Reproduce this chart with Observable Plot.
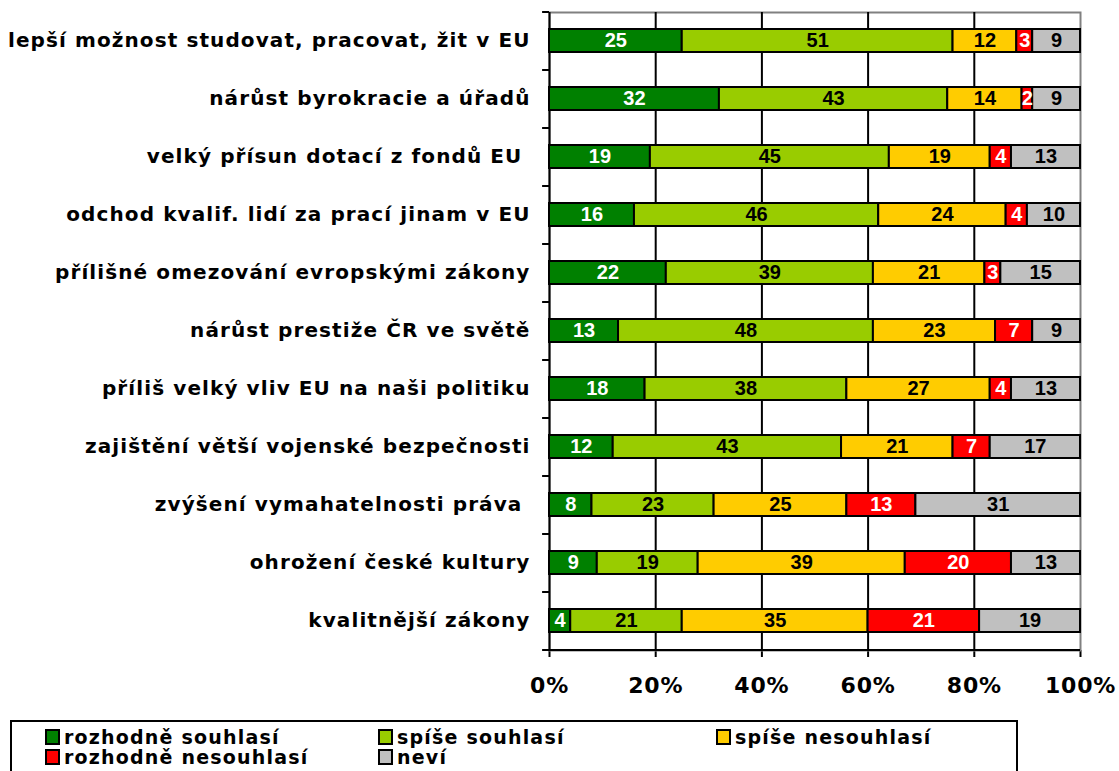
<!DOCTYPE html>
<html>
<head>
<meta charset="utf-8">
<script src="https://cdn.jsdelivr.net/npm/d3@7"></script>
<script src="https://cdn.jsdelivr.net/npm/@observablehq/plot@0.6"></script>
<style>
  html, body { margin: 0; padding: 0; background: #fff; }
  #chart svg { display: block; }
  #chart [aria-label^="y-axis"] text { font-family: "DejaVu Sans", Verdana, sans-serif; font-size: 20px; font-weight: bold; letter-spacing: 1.1px; fill: #000; }
  #chart [aria-label^="x-axis"] text { font-family: "DejaVu Sans", Verdana, sans-serif; font-size: 22px; font-weight: bold; letter-spacing: 0.8px; fill: #000; }
  #chart [aria-label^="x-axis"] line, #chart [aria-label^="x-axis"] path { stroke: #000; stroke-width: 2px; }
  #legend { position: relative; width: 1119px; height: 59px; }
  #legend .box { position: absolute; left: 10px; top: 8px; width: 1004px; height: 60px; border: 2px solid #000; }
  #legend .item { position: absolute; font-family: "DejaVu Sans", Verdana, sans-serif; font-weight: bold; font-size: 19px; letter-spacing: 1.2px; line-height: 20px; white-space: nowrap; color: #000; }
  #legend .sw { display: inline-block; width: 11px; height: 12px; border: 2px solid #000; vertical-align: -1px; margin-right: 4px; }
</style>
</head>
<body>
<div id="chart"></div>
<div id="legend"><div class="box"></div></div>
<script>
const categories = [
  "lepší možnost studovat, pracovat, žit v EU",
  "nárůst byrokracie a úřadů",
  "velký přísun dotací z fondů EU ",
  "odchod kvalif. lidí za prací jinam v EU",
  "přílišné omezování evropskými zákony",
  "nárůst prestiže ČR ve světě",
  "příliš velký vliv EU na naši politiku",
  "zajištění větší vojenské bezpečnosti",
  "zvýšení vymahatelnosti práva ",
  "ohrožení české kultury",
  "kvalitnější zákony"
];
const seriesNames = ["rozhodně souhlasí", "spíše souhlasí", "spíše nesouhlasí", "rozhodně nesouhlasí", "neví"];
const seriesColors = ["#008000", "#99CC00", "#FFCC00", "#FF0000", "#C0C0C0"];
const labelColors = ["#fff", "#000", "#000", "#fff", "#000"];

const rozhodneSouhlasi   = [25, 32, 19, 16, 22, 13, 18, 12,  8,  9,  4];
const spiseSouhlasi      = [51, 43, 45, 46, 39, 48, 38, 43, 23, 19, 21];
const spiseNesouhlasi    = [12, 14, 19, 24, 21, 23, 27, 21, 25, 39, 35];
const rozhodneNesouhlasi = [ 3,  2,  4,  4,  3,  7,  4,  7, 13, 20, 21];
const nevi               = [ 9,  9, 13, 10, 15,  9, 13, 17, 31, 13, 19];

const xTicks = [0, 20, 40, 60, 80, 100];

const seriesValues = [rozhodneSouhlasi, spiseSouhlasi, spiseNesouhlasi, rozhodneNesouhlasi, nevi];
const data = [];
categories.forEach((c, i) => {
  seriesNames.forEach((s, j) => {
    data.push({cat: c, series: s, value: seriesValues[j][i], si: j});
  });
});

const stackOpts = (extra) => Plot.stackX({x: "value", y: "cat", z: "series", order: seriesNames, ...extra});
const lastCat = categories[categories.length - 1];

const chart = Plot.plot({
  width: 1119,
  height: 712,
  marginLeft: 549,
  marginRight: 39,
  marginTop: 12,
  marginBottom: 62,
  style: {fontFamily: "'Liberation Sans', Arial, sans-serif", background: "#fff", overflow: "visible"},
  x: {domain: [0, 100], ticks: xTicks, tickFormat: d => d + "%", tickSize: 7, tickPadding: 20, label: null},
  y: {domain: categories, paddingInner: 0.6, paddingOuter: 0.3, tickSize: 0, tickPadding: 19, label: null},
  color: {domain: seriesNames, range: seriesColors},
  marks: [
    Plot.frame({stroke: "#808080", strokeWidth: 2}),
    Plot.ruleX(xTicks.slice(1, -1), {stroke: "#000", strokeWidth: 2}),
    Plot.ruleX([0], {stroke: "#000", strokeWidth: 2}),
    Plot.ruleY([lastCat], {x1: 0, x2: 100, dy: 29, stroke: "#000", strokeWidth: 2}),
    Plot.ruleY(categories, {x1: -1.3, x2: 0, dy: -29, stroke: "#000", strokeWidth: 2}),
    Plot.ruleY([lastCat], {x1: -1.3, x2: 0, dy: 29, stroke: "#000", strokeWidth: 2}),
    Plot.barX(data, stackOpts({fill: "series", stroke: "#000", strokeWidth: 2})),
    Plot.text(data, stackOpts({text: d => labelColors[d.si] === "#fff" ? d.value : null, fill: "#fff", fontSize: 20, fontWeight: "bold"})),
    Plot.text(data, stackOpts({text: d => labelColors[d.si] === "#000" ? d.value : null, fill: "#000", fontSize: 20, fontWeight: "bold"}))
  ]
});
document.getElementById("chart").appendChild(chart);

const legendPos = [[45, 15], [378, 15], [716, 15], [45, 35], [378, 35]];
const legend = document.getElementById("legend");
seriesNames.forEach((s, j) => {
  const item = document.createElement("div");
  item.className = "item";
  item.style.left = legendPos[j][0] + "px";
  item.style.top = legendPos[j][1] + "px";
  const sw = document.createElement("span");
  sw.className = "sw";
  sw.style.background = seriesColors[j];
  item.appendChild(sw);
  item.appendChild(document.createTextNode(s));
  legend.appendChild(item);
});
</script>
</body>
</html>
